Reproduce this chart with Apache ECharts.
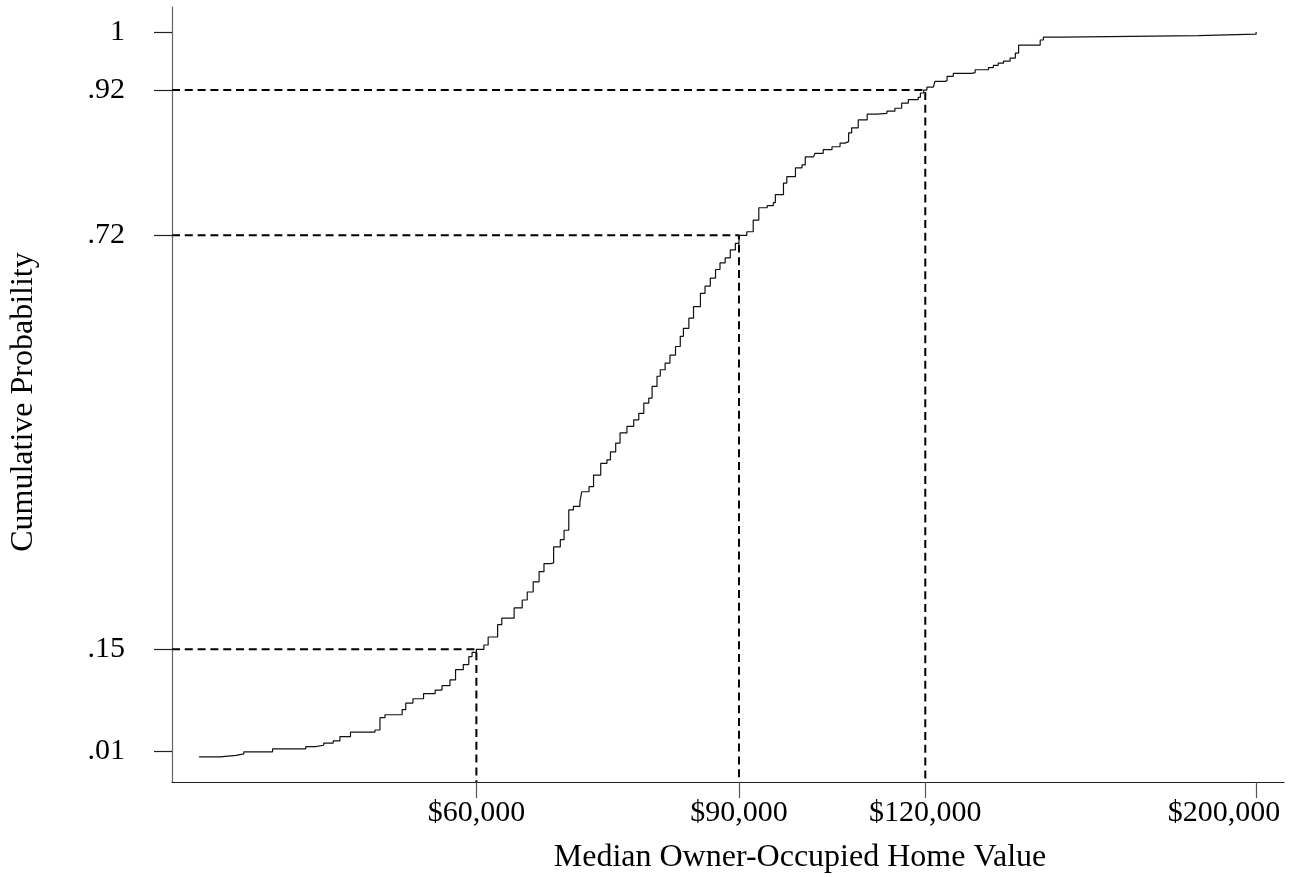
<!DOCTYPE html>
<html>
<head>
<meta charset="utf-8">
<title>Cumulative distribution of median owner-occupied home value</title>
<script src="https://cdn.jsdelivr.net/npm/echarts@6/dist/echarts.min.js"></script>
<style>
  html, body { margin: 0; padding: 0; background: #ffffff; }
  #chart { width: 1296px; height: 877px; }
</style>
</head>
<body>
<div id="chart"></div>
<script>
// Empirical CDF: median owner-occupied home value (dollars) and cumulative share
const homeValue = [
  39100, 40400, 41400, 41900, 43800, 46100, 46800, 47400, 48100, 48600,
  49400, 51300, 51700, 52100, 53500, 53800, 54400, 55300, 56300, 56900,
  57600, 58100, 58800, 59300, 59600, 60000, 60700, 61100, 62000, 62400,
  63600, 64400, 64900, 65500, 66100, 66600, 67300, 67600, 68300, 68700,
  69200, 69700, 70400, 70600, 71400, 71900, 72700, 73400, 73800, 74400,
  74900, 75700, 76500, 77100, 77700, 78300, 78700, 79300, 79700, 80300,
  80900, 81600, 82200, 82600, 83300, 83900, 84800, 85400, 86100, 86800,
  87400, 88100, 88800, 89500, 90000, 91100, 92000, 92800, 94000, 94900,
  95200, 96400, 96900, 98200, 99200, 99700, 101000, 101200, 102500, 103900,
  105200, 106000, 106600, 107100, 108200, 109700, 111400, 113100, 114500, 115700,
  116900, 118700, 119100, 119700, 120300, 121500, 121800, 123700, 124100, 125300,
  128900, 129600, 132300, 133300, 134300, 135400, 136800, 137900, 138600, 142500,
  143300, 144000, 148500, 182900, 200000
];
const cumProb = [
  0.002, 0.004, 0.006, 0.009, 0.013, 0.016, 0.018, 0.021, 0.024, 0.030,
  0.036, 0.039, 0.056, 0.060, 0.067, 0.076, 0.082, 0.089, 0.094, 0.100,
  0.108, 0.122, 0.129, 0.140, 0.146, 0.150, 0.156, 0.167, 0.184, 0.193,
  0.207, 0.218, 0.229, 0.243, 0.257, 0.268, 0.269, 0.291, 0.301, 0.314,
  0.342, 0.347, 0.353, 0.367, 0.374, 0.390, 0.406, 0.411, 0.422, 0.434,
  0.448, 0.457, 0.466, 0.475, 0.489, 0.496, 0.512, 0.526, 0.535, 0.544,
  0.555, 0.567, 0.581, 0.592, 0.606, 0.622, 0.640, 0.650, 0.661, 0.673,
  0.682, 0.689, 0.700, 0.709, 0.720, 0.725, 0.741, 0.758, 0.761, 0.765,
  0.776, 0.792, 0.801, 0.813, 0.817, 0.828, 0.829, 0.833, 0.838, 0.842,
  0.847, 0.849, 0.861, 0.868, 0.879, 0.887, 0.888, 0.891, 0.895, 0.902,
  0.907, 0.910, 0.916, 0.920, 0.924, 0.926, 0.932, 0.933, 0.939, 0.943,
  0.944, 0.948, 0.951, 0.954, 0.957, 0.960, 0.964, 0.971, 0.982, 0.982,
  0.989, 0.993, 0.995, 0.997, 1.000
];

// Reference readings: home value at which the CDF reaches each probability
const refValue = [60000, 90000, 120000];
const refProb = [0.15, 0.72, 0.92];

// Tick positions
const xTicks = [60000, 90000, 120000, 200000];
const yTicks = [0.01, 0.15, 0.72, 0.92, 1];

// Axis ranges
const xMin = 37500, xMax = 208800;
const yMin = -0.0326, yMax = 1.0344;

const FONT = 'Liberation Serif';

function dollars(v) {
  return '$' + String(Math.round(v)).replace(/\B(?=(\d{3})+(?!\d))/g, ',');
}
function probLabel(v) {
  const n = Math.round(v * 100);
  if (n >= 100) return '1';
  return '.' + (n < 10 ? '0' + n : String(n));
}

const curveData = homeValue.map((v, i) => [v, cumProb[i]]);

// Dashed guides: across from the probability axis, then down to the value axis
const refSeries = refValue.map((v, i) => ({
  type: 'line',
  silent: true,
  symbol: 'none',
  animation: false,
  z: 1,
  data: [[xMin, refProb[i]], [v, refProb[i]], [v, yMin]],
  lineStyle: { color: '#000', width: 2, type: [8, 4.8] }
}));

const lastTick = Math.round(xTicks[xTicks.length - 1]);

const chart = echarts.init(document.getElementById('chart'), null, { renderer: 'canvas' });
chart.setOption({
  backgroundColor: '#ffffff',
  animation: false,
  grid: {
    left: 172, right: 12, top: 7, bottom: 95,
    containLabel: false,
    outerBoundsMode: 'none'
  },
  xAxis: {
    type: 'log',
    logBase: 10,
    min: xMin,
    max: xMax,
    name: 'Median Owner-Occupied Home Value',
    nameLocation: 'middle',
    nameGap: 60,
    nameTextStyle: { fontFamily: FONT, fontSize: 32, color: '#000', padding: [0, 0, 0, 144] },
    axisLine: { show: true, onZero: false, lineStyle: { color: '#222', width: 1.2 } },
    axisTick: { show: true, length: 16, customValues: xTicks, lineStyle: { color: '#555', width: 1.2 } },
    axisLabel: {
      customValues: xTicks,
      margin: 16,
      fontFamily: FONT,
      fontSize: 30,
      color: '#000',
      formatter: function (v) {
        const s = dollars(v);
        return Math.round(v) === lastTick ? '{edge|' + s + '}' : s;
      },
      rich: {
        edge: { fontFamily: FONT, fontSize: 30, color: '#000', padding: [0, 64, 0, 0] }
      }
    },
    splitLine: { show: false },
    minorTick: { show: false }
  },
  yAxis: {
    type: 'value',
    min: yMin,
    max: yMax,
    name: 'Cumulative Probability',
    nameLocation: 'middle',
    nameRotate: 90,
    nameGap: 132,
    nameTextStyle: { fontFamily: FONT, fontSize: 32, color: '#000', padding: [0, 15, 0, 0] },
    axisLine: { show: true, onZero: false, lineStyle: { color: '#666', width: 1.2 } },
    axisTick: { show: true, length: 18, customValues: yTicks, lineStyle: { color: '#222', width: 1.2 } },
    axisLabel: {
      customValues: yTicks,
      margin: 47,
      fontFamily: FONT,
      fontSize: 30,
      color: '#000',
      formatter: probLabel
    },
    splitLine: { show: false }
  },
  series: [
    {
      type: 'line',
      name: 'Cumulative Probability',
      silent: true,
      symbol: 'none',
      step: 'end',
      z: 3,
      data: curveData,
      lineStyle: { color: '#111', width: 1.2 }
    }
  ].concat(refSeries)
});
</script>
</body>
</html>
